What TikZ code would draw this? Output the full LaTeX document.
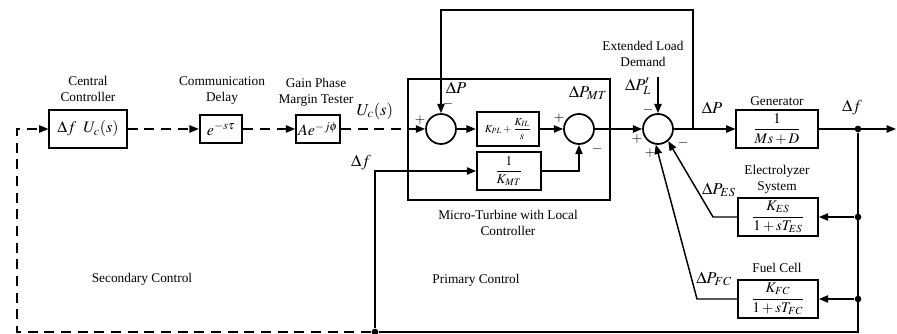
\documentclass[tikz,border=0pt]{standalone}
\usepackage{amsmath}
\usepackage{mathptmx}
\usepackage[no-math]{fontspec}
\setmainfont{Liberation Serif}
\usetikzlibrary{arrows.meta}

\begin{document}
\begin{tikzpicture}[x=0.75pt,y=-0.75pt,line width=1.1pt,
	blk/.style={draw,line width=1.3pt,inner sep=1pt},
	sumc/.style={draw,circle,line width=1.3pt,minimum size=22.5pt,inner sep=0pt},
	dot/.style={circle,fill,inner sep=0pt,minimum size=5pt},
	dsh/.style={dash pattern=on 7.5pt off 5pt},
	arr/.style={-{Triangle[length=7pt,width=5.5pt]}},
	lbl/.style={font=\fontsize{10}{12}\selectfont,align=center,inner sep=0pt},
	sig/.style={font=\fontsize{10}{10}\selectfont,inner sep=0pt},
	mth/.style={font=\fontsize{12.5}{13}\selectfont,inner sep=0pt}]
	\useasboundingbox (0,0) rectangle (897,334);
	% secondary control chain
	\node[blk,minimum width=58pt,minimum height=28pt,font=\fontsize{12}{12}\selectfont] (cc) at (88,129) {$\Delta f\;\;U_c(s)$};
	\node[lbl] at (88,89) {Central\\Controller};
	\node[blk,minimum width=32pt,minimum height=21pt,font=\fontsize{12}{12}\selectfont] (dl) at (221,129) {$e^{-s\tau}$};
	\node[lbl] at (222,91) {Communication\\Delay};
	\node[blk,minimum width=33pt,minimum height=21pt,font=\fontsize{12}{12}\selectfont] (gm) at (318,129) {$Ae^{-j\phi}$};
	\node[lbl] at (316,92) {Gain Phase\\Margin Tester};
	\node[mth] at (375,111) {$U_c(s)$};
	% micro-turbine
	\draw[line width=1.3pt] (408,79) rectangle (610,200);
	\node[lbl] at (508,223) {Micro-Turbine with Local\\Controller};
	\node[sumc] (s1) at (441,129) {};
	\node[blk,minimum width=47pt,minimum height=26pt,font=\fontsize{8}{9}\selectfont] (kpi) at (508,129) {$K_{PL}+\dfrac{K_{IL}}{s}$};
	\node[blk,minimum width=48pt,minimum height=28pt,font=\fontsize{10}{11}\selectfont] (kmt) at (509,171) {$\dfrac{1}{K_{MT}}$};
	\node[sumc] (s2) at (579,129) {};
	% system
	\node[sumc] (s3) at (658,129) {};
	\node[blk,minimum width=61pt,minimum height=28pt,font=\fontsize{11}{12}\selectfont] (gen) at (777,129) {$\dfrac{1}{Ms+D}$};
	\node[lbl] at (777,101) {Generator};
	\node[blk,minimum width=60pt,minimum height=28pt,font=\fontsize{11}{12}\selectfont] (es) at (778,217) {$\dfrac{K_{ES}}{1+sT_{ES}}$};
	\node[lbl] at (777,179) {Electrolyzer\\System};
	\node[blk,minimum width=60pt,minimum height=28pt,font=\fontsize{11}{12}\selectfont] (fc) at (778,299) {$\dfrac{K_{FC}}{1+sT_{FC}}$};
	\node[lbl] at (777,268) {Fuel Cell};
	\node[lbl] at (643,54) {Extended Load\\Demand};
	\node[dot] (d1) at (858,129) {};
	\node[dot] (d2) at (858,217) {};
	\node[dot] (d3) at (858,299) {};
	\node[dot] (jb) at (375,332) {};
	\coordinate (rb) at (858,332);
	\coordinate (bl) at (17,332);
	\coordinate (mtw) at (408,129);
	\coordinate (tp) at (693,129);
	\coordinate (tr) at (693,10);
	\coordinate (ld) at (658,77);
	\coordinate (esb) at (713,217);
	\coordinate (fcb) at (697,299);
	\coordinate (out) at (896,129);
	% connectors
	\draw[dsh,arr] (jb) -- (bl) |- (cc);
	\draw[dsh,arr] (cc) -- (dl);
	\draw[dsh,arr] (dl) -- (gm);
	\draw[dsh] (gm) -- (mtw);
	\draw[arr] (mtw) -- (s1);
	\draw[arr] (s1) -- (kpi);
	\draw[arr] (kpi) -- (s2);
	\draw[arr] (kmt) -| (s2);
	\draw[arr] (jb) |- (kmt);
	\draw[arr] (s2) -- (s3);
	\draw[arr] (s3) -- (gen);
	\draw[arr] (gen) -- (out);
	\draw[arr] (tp) -- (tr) -| (s1);
	\draw[arr] (ld) -- (s3);
	\draw (d1) -- (rb) -- (jb);
	\draw[arr] (d2) -- (es);
	\draw[arr] (d3) -- (fc);
	\draw[arr] (es) -- (esb) -- (s3.-50);
	\draw[arr] (fc) -- (fcb) -- (s3.-98);
	% signs and signals
	\node[sig] at (420,120) {$+$};
	\node[sig] at (448,104) {$-$};
	\node[sig] at (559,118) {$+$};
	\node[sig] at (597,149) {$-$};
	\node[sig] at (648,110) {$-$};
	\node[sig] at (637,139) {$+$};
	\node[sig] at (683,143) {$-$};
	\node[sig] at (650,153) {$+$};
	\node[mth] at (456,88) {$\Delta P$};
	\node[mth] at (588,93) {$\Delta P_{MT}$};
	\node[mth] at (638,86) {$\Delta P'_L$};
	\node[mth] at (712,108) {$\Delta P$};
	\node[mth] at (852,108) {$\Delta f$};
	\node[mth] at (719,190) {$\Delta P_{ES}$};
	\node[mth] at (714,279) {$\Delta P_{FC}$};
	\node[mth] at (361,163) {$\Delta f$};
	\node[lbl] at (142,279) {Secondary Control};
	\node[lbl] at (476,280) {Primary Control};
\end{tikzpicture}
\end{document}
